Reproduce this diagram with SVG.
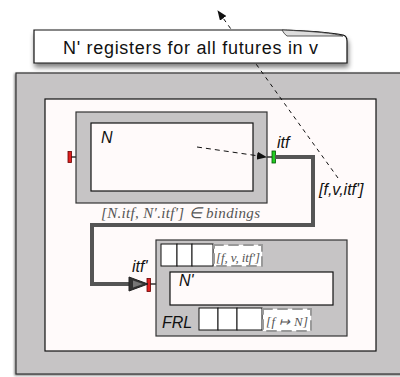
<svg xmlns="http://www.w3.org/2000/svg" width="400" height="377" viewBox="0 0 400 377">
<defs>
<style>
.gray{fill:#c6c4c5;stroke:#333;stroke-width:1.2}
.pink{fill:#fffafa;stroke:#111;stroke-width:1.2}
.cell{fill:#fff;stroke:#111;stroke-width:1}
.lbl{font-family:"Liberation Sans",Arial,sans-serif;font-style:italic;font-size:16px;fill:#111}
.tex{font-family:"Liberation Serif","Times New Roman",serif;font-style:italic;fill:#555}
.dbox{fill:#fff;stroke:#999;stroke-width:2;stroke-dasharray:9 6;stroke-linecap:round}
</style>
<filter id="sh" x="-10%" y="-30%" width="125%" height="180%">
<feGaussianBlur in="SourceAlpha" stdDeviation="2.5"/>
<feOffset dx="1" dy="4"/>
<feComponentTransfer><feFuncA type="linear" slope="0.5"/></feComponentTransfer>
<feMerge><feMergeNode/><feMergeNode in="SourceGraphic"/></feMerge>
</filter>
<filter id="sh2" x="-5%" y="-5%" width="110%" height="110%">
<feGaussianBlur in="SourceAlpha" stdDeviation="1"/>
<feOffset dx="-1" dy="1"/>
<feComponentTransfer><feFuncA type="linear" slope="0.5"/></feComponentTransfer>
<feMerge><feMergeNode/><feMergeNode in="SourceGraphic"/></feMerge>
</filter>
<marker id="ah" markerWidth="10" markerHeight="8" refX="9" refY="4" orient="auto" markerUnits="userSpaceOnUse">
<path d="M0,0 L10,4 L0,8 Z" fill="#111"/>
</marker>
</defs>
<rect width="400" height="377" fill="#fff"/>

<g id="world">
<rect x="16" y="73" width="390" height="301" class="gray" filter="url(#sh2)"/>
<rect x="45" y="99" width="331" height="252" class="pink"/>
</g>

<g id="nodeN">
<rect x="76" y="112" width="191" height="91" class="gray"/>
<rect x="91" y="123" width="162" height="68" class="pink"/>
<text x="101" y="143" class="lbl">N</text>
<g id="portN_left">
<path d="M71,157 H76" stroke="#333" stroke-width="1.5"/>
<rect x="68" y="151.5" width="3.5" height="11" fill="#e02020" stroke="#600" stroke-width="0.8"/>
</g>
<g id="portN_itf">
<path d="M267,157 H272" stroke="#333" stroke-width="1.5"/>
<rect x="272" y="151" width="3.5" height="12" fill="#22cc22" stroke="#050" stroke-width="0.8"/>
<text x="277" y="148" class="lbl">itf</text>
</g>
</g>

<g id="nodeNprime">
<rect x="156" y="240" width="191" height="96" class="gray"/>
<rect x="161" y="244" width="16" height="22" class="cell"/>
<rect x="177" y="244" width="15" height="22" class="cell"/>
<rect x="192" y="244" width="21" height="22" class="cell"/>
<rect x="214" y="245" width="48" height="21" class="dbox"/>
<text x="216" y="262" class="tex" font-size="13" textLength="44" lengthAdjust="spacing">[f, v, itf′]</text>
<rect x="170" y="272" width="163" height="33" class="pink"/>
<text x="179" y="286" class="lbl">N'</text>
<text x="162" y="328" class="lbl">FRL</text>
<rect x="199" y="308" width="19" height="22" class="cell"/>
<rect x="218" y="308" width="19" height="22" class="cell"/>
<rect x="237" y="308" width="25" height="22" class="cell"/>
<rect x="263" y="309" width="48" height="22" class="dbox"/>
<text x="266" y="326" class="tex" font-size="13" textLength="42" lengthAdjust="spacing">[f ↦ N]</text>
<g id="portNp_itf">
<path d="M150,284 H156" stroke="#333" stroke-width="1.5"/>
<rect x="147" y="278.5" width="3.5" height="13" fill="#e02020" stroke="#600" stroke-width="0.8"/>
<text x="132" y="272" class="lbl">itf'</text>
</g>
</g>

<g id="connectors">
<path d="M275,157 H313 V225 H92 V284 H131" fill="none" stroke="#555" stroke-width="4"/>
<path d="M129,277 L148,284 L129,291 Z" fill="#333" stroke="#222" stroke-width="1"/>
<path d="M133,280.5 L143,284 L133,287.5 Z" fill="#777"/>
<path d="M197,147 L266,157" fill="none" stroke="#111" stroke-width="1" stroke-dasharray="5 4" marker-end="url(#ah)"/>
<path d="M338,178 L218,11" fill="none" stroke="#111" stroke-width="1" stroke-dasharray="4 4" marker-end="url(#ah)"/>
<text x="319" y="195" class="lbl">[f,v,itf']</text>
<text x="101" y="218" class="tex" font-size="15" textLength="159" lengthAdjust="spacing">[N.itf, N′.itf′] ∈ bindings</text>
</g>

<g id="callout">
<path d="M34,30 H282 Q322,31 343,35 Q347,36 347,41 V63 H34 Z" fill="#fff" stroke="#111" stroke-width="1.2" filter="url(#sh)"/>
<path d="M282,30 Q284,34 287,36 L343,36 Q330,32 282,30 Z" fill="#ddd" stroke="#333" stroke-width="0.8"/>
<text x="63" y="53.5" font-family="'Liberation Sans',Arial,sans-serif" font-size="18" fill="#111" textLength="255" lengthAdjust="spacing">N' registers for all futures in v</text>
</g>
</svg>
